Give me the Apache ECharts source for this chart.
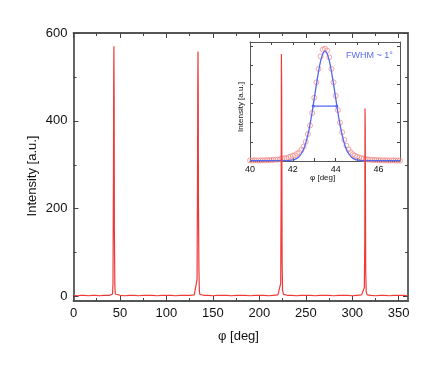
<!DOCTYPE html>
<html>
<head>
<meta charset="utf-8">
<script src="https://cdn.jsdelivr.net/npm/echarts@6/dist/echarts.min.js"></script>
<style>
html, body { margin: 0; padding: 0; background: #fff; }
#chart { width: 436px; height: 367px; }
</style>
</head>
<body>
<div id="chart"></div>
<script>
// main phi scan (deg) and intensity (a.u.)
const phiMain = [0, 4, 8, 12, 16, 20, 24, 28, 32, 36, 39, 41, 42, 42.5, 43, 43.25, 43.5, 43.75, 44, 44.5, 45, 46,
    50, 55, 60, 65, 70, 75, 80, 85, 90, 95, 100, 105, 110, 115, 120, 125, 130, 132, 133, 133.5, 133.75, 134, 134.25, 134.5, 135, 135.5, 136,
    140, 145, 150, 155, 160, 165, 170, 175, 180, 185, 190, 195, 200, 205, 210, 215, 220, 222, 223, 223.5, 223.75, 224, 224.25, 224.5, 225, 226,
    230, 235, 240, 245, 250, 255, 260, 265, 270, 275, 280, 285, 290, 295, 300, 305, 310, 312, 313, 313.5, 313.75, 314, 314.25, 314.5, 315, 316,
    320, 325, 330, 335, 340, 345, 350, 355, 360];
const intensityMain = [3, 2, 3, 3, 2, 3, 3, 2, 3, 3, 3, 4, 6, 30, 280, 480, 570, 450, 150, 25, 6, 4,
    3, 2, 3, 3, 2, 3, 3, 3, 2, 3, 3, 3, 2, 3, 3, 3, 4, 6, 40, 300, 480, 558, 460, 200, 60, 12, 5,
    3, 3, 2, 3, 3, 3, 2, 3, 3, 3, 2, 3, 3, 3, 2, 3, 4, 5, 30, 250, 552, 485, 300, 80, 15, 5,
    3, 3, 2, 3, 3, 3, 2, 3, 3, 3, 2, 3, 3, 3, 2, 3, 4, 4, 20, 130, 428, 380, 220, 60, 12, 4,
    3, 2, 3, 3, 2, 3, 3, 3, 2];

// inset: measured points around the first peak
const phiInset = [40.0, 40.1, 40.2, 40.3, 40.4, 40.5, 40.6, 40.7, 40.8, 40.9, 41.0, 41.1, 41.2, 41.3, 41.4, 41.5, 41.6, 41.7, 41.8, 41.9,
    42.0, 42.1, 42.2, 42.3, 42.4, 42.5, 42.6, 42.7, 42.8, 42.9, 43.0, 43.1, 43.2, 43.3, 43.4, 43.5, 43.6, 43.7, 43.8, 43.9,
    44.0, 44.1, 44.2, 44.3, 44.4, 44.5, 44.6, 44.7, 44.8, 44.9, 45.0, 45.1, 45.2, 45.3, 45.4, 45.5, 45.6, 45.7, 45.8, 45.9,
    46.0, 46.1, 46.2, 46.3, 46.4, 46.5, 46.6, 46.7, 46.8, 46.9, 47.0];
const intensityInset = [3, 2, 4, 3, 2, 3, 4, 3, 5, 4, 6, 5, 8, 7, 10, 12, 15, 14, 20, 22,
    28, 30, 38, 45, 58, 75, 100, 140, 185, 250, 330, 410, 480, 545, 580, 585, 575, 540, 480, 410,
    340, 265, 200, 150, 110, 80, 60, 45, 35, 28, 22, 18, 15, 12, 10, 8, 7, 6, 5, 5,
    4, 4, 3, 4, 3, 2, 3, 3, 2, 3, 2];

// gaussian fit
const phiFit = [40.0, 41.8, 41.9, 42.0, 42.1, 42.2, 42.3, 42.4, 42.5, 42.6, 42.7, 42.8, 42.9, 43.0, 43.1, 43.2, 43.3, 43.4, 43.5,
    43.6, 43.7, 43.8, 43.9, 44.0, 44.1, 44.2, 44.3, 44.4, 44.5, 44.6, 44.7, 44.8, 44.9, 45.0, 45.1, 45.2, 47.0];
const intensityFit = [2, 2, 4, 5.5, 9, 14, 24, 39, 61, 93, 136, 190, 254, 326, 399, 467, 523, 559, 572,
    559, 523, 467, 399, 326, 254, 190, 136, 93, 61, 39, 24, 14, 9, 5.5, 4, 2, 2];
const fwhmPhi = [42.95, 44.05];
const fwhmLevel = 286;

// ticks
const xMajor = [0, 50, 100, 150, 200, 250, 300, 350];
const xMinor = [25, 75, 125, 175, 225, 275, 325];
const yMajor = [0, 200, 400, 600];
const yMinor = [100, 300, 500];
const insetXLabels = [40, 42, 44, 46];
const insetXTicks = [41, 42, 43, 44, 45, 46];
const insetYTicks = [100, 200, 300, 400, 500, 600];

const zip = (xs, ys) => xs.map((x, i) => [x, ys[i]]);
const font = 'Liberation Sans, Arial, sans-serif';

// onZero off, otherwise the top/right frame axes snap onto zero
function tickAxis(grid, pos, min, max, ticks, len, line, labels, labelSize) {
    return {
        type: 'value', gridIndex: grid, position: pos, min: min, max: max,
        axisLine: line ? { show: true, onZero: false, lineStyle: line } : { show: false, onZero: false },
        axisTick: { show: true, inside: true, length: len, customValues: ticks, lineStyle: { color: '#444', width: 1 } },
        axisLabel: labels ? { customValues: labels, fontSize: labelSize, color: '#111', fontFamily: font, margin: labelSize > 10 ? 6 : 4 } : { show: false },
        splitLine: { show: false }
    };
}

const mainLine = { color: '#555', width: 1.8 };
const insetLine = { color: '#555', width: 1 };
const mainRect = { left: 73.5, right: 28, top: 33, bottom: 66 };

const chart = echarts.init(document.getElementById('chart'));
chart.setOption({
    animation: false,
    grid: [
        mainRect,
        { left: 250, top: 42, width: 150, height: 119 },
        mainRect
    ],
    xAxis: [
        tickAxis(0, 'bottom', 0, 360, xMajor, 5, mainLine, xMajor, 13),
        tickAxis(0, 'top', 0, 360, xMajor, 5, mainLine),
        tickAxis(2, 'bottom', 0, 360, xMinor, 3, null),
        tickAxis(2, 'top', 0, 360, xMinor, 3, null),
        tickAxis(1, 'bottom', 40, 47, insetXTicks, 3, insetLine, insetXLabels, 9),
        tickAxis(1, 'top', 40, 47, insetXTicks, 3, insetLine)
    ],
    yAxis: [
        tickAxis(0, 'left', -10, 600, yMajor, 5, mainLine, yMajor, 13),
        tickAxis(0, 'right', -10, 600, yMajor, 5, mainLine),
        tickAxis(2, 'left', -10, 600, yMinor, 3, null),
        tickAxis(2, 'right', -10, 600, yMinor, 3, null),
        tickAxis(1, 'left', 0, 620, insetYTicks, 3, insetLine),
        tickAxis(1, 'right', 0, 620, insetYTicks, 3, insetLine)
    ],
    series: [
        {
            type: 'scatter', xAxisIndex: 4, yAxisIndex: 4, data: zip(phiInset, intensityInset),
            symbol: 'circle', symbolSize: 5,
            itemStyle: { color: 'rgba(255,255,255,0)', borderColor: '#f29090', borderWidth: 1 }, z: 2
        },
        {
            type: 'line', xAxisIndex: 4, yAxisIndex: 4, data: zip(phiFit, intensityFit),
            smooth: 0.3, showSymbol: false, lineStyle: { color: '#5566ee', width: 1.3 }, z: 3
        },
        {
            type: 'line', xAxisIndex: 4, yAxisIndex: 4, data: fwhmPhi.map(p => [p, fwhmLevel]),
            symbol: 'circle', symbolSize: 3, itemStyle: { color: '#5566ee' },
            lineStyle: { color: '#5566ee', width: 1.3 }, z: 3
        },
        {
            type: 'line', xAxisIndex: 0, yAxisIndex: 0, data: zip(phiMain, intensityMain),
            showSymbol: false, lineStyle: { color: '#f03a3a', width: 1.2 }, z: 4
        }
    ],
    graphic: [
        { type: 'text', left: 218, top: 330, style: { text: 'φ [deg]', font: '13px ' + font, fill: '#111' } },
        { type: 'text', x: 32, y: 176, rotation: Math.PI / 2,
          style: { text: 'Intensity [a.u.]', font: '13px ' + font, fill: '#111', align: 'center', verticalAlign: 'middle' } },
        { type: 'text', left: 310, top: 174, style: { text: 'φ [deg]', font: '8px ' + font, fill: '#111' } },
        { type: 'text', x: 240.5, y: 107, rotation: Math.PI / 2,
          style: { text: 'Intensity [a.u.]', font: '8px ' + font, fill: '#111', align: 'center', verticalAlign: 'middle' } },
        { type: 'text', left: 346, top: 51, style: { text: 'FWHM ~ 1°', font: '9px ' + font, fill: '#5a6cf2' } }
    ]
});
</script>
</body>
</html>
